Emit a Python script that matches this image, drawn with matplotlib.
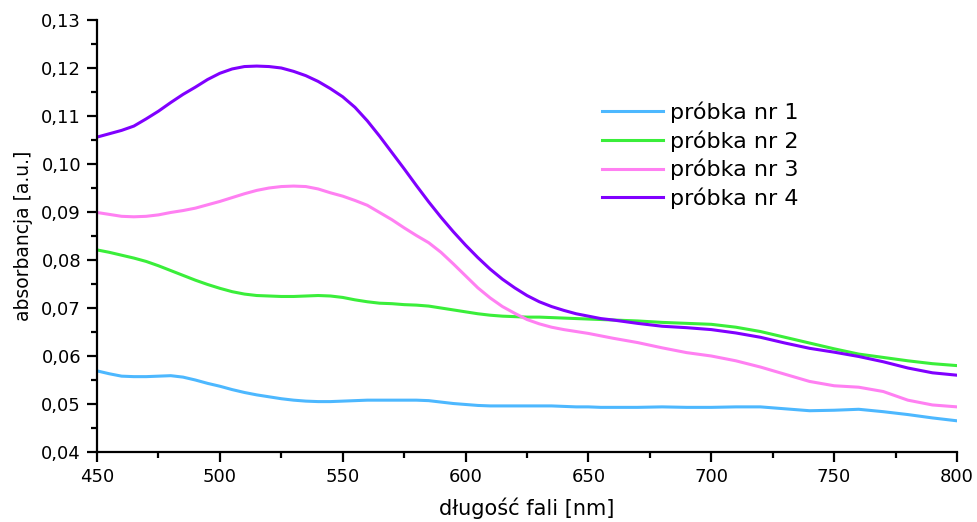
import matplotlib
matplotlib.use("Agg")
import matplotlib.pyplot as plt
from matplotlib.ticker import MultipleLocator, FuncFormatter

wavelength = [450, 455, 460, 465, 470, 475, 480, 485, 490, 495, 500, 505,
              510, 515, 520, 525, 530, 535, 540, 545, 550, 555, 560, 565,
              570, 575, 580, 585, 590, 595, 600, 605, 610, 615, 620, 625,
              630, 635, 640, 645, 650, 655, 660, 670, 680, 690, 700, 710,
              720, 730, 740, 750, 760, 770, 780, 790, 800]

sample1 = [0.0569, 0.0563, 0.0558, 0.0557, 0.0557, 0.0558, 0.0559, 0.0556,
           0.0550, 0.0543, 0.0537, 0.0530, 0.0524, 0.0519, 0.0515, 0.0511,
           0.0508, 0.0506, 0.0505, 0.0505, 0.0506, 0.0507, 0.0508, 0.0508,
           0.0508, 0.0508, 0.0508, 0.0507, 0.0504, 0.0501, 0.0499, 0.0497,
           0.0496, 0.0496, 0.0496, 0.0496, 0.0496, 0.0496, 0.0495, 0.0494,
           0.0494, 0.0493, 0.0493, 0.0493, 0.0494, 0.0493, 0.0493, 0.0494,
           0.0494, 0.0490, 0.0486, 0.0487, 0.0489, 0.0484, 0.0478, 0.0471,
           0.0465]

sample2 = [0.0821, 0.0816, 0.0810, 0.0804, 0.0797, 0.0788, 0.0778, 0.0768,
           0.0758, 0.0749, 0.0741, 0.0734, 0.0729, 0.0726, 0.0725, 0.0724,
           0.0724, 0.0725, 0.0726, 0.0725, 0.0722, 0.0717, 0.0713, 0.0710,
           0.0709, 0.0707, 0.0706, 0.0704, 0.0700, 0.0696, 0.0692, 0.0688,
           0.0685, 0.0683, 0.0682, 0.0681, 0.0681, 0.0680, 0.0679, 0.0678,
           0.0677, 0.0676, 0.0675, 0.0673, 0.0670, 0.0668, 0.0666, 0.0660,
           0.0651, 0.0639, 0.0627, 0.0615, 0.0604, 0.0597, 0.0590, 0.0584,
           0.0580]

sample3 = [0.0899, 0.0895, 0.0891, 0.0890, 0.0891, 0.0894, 0.0899, 0.0903,
           0.0908, 0.0915, 0.0922, 0.0930, 0.0938, 0.0945, 0.0950, 0.0953,
           0.0954, 0.0953, 0.0948, 0.0940, 0.0933, 0.0924, 0.0914, 0.0899,
           0.0884, 0.0867, 0.0851, 0.0836, 0.0816, 0.0792, 0.0767, 0.0742,
           0.0721, 0.0703, 0.0689, 0.0676, 0.0667, 0.0660, 0.0655, 0.0651,
           0.0647, 0.0642, 0.0637, 0.0628, 0.0617, 0.0607, 0.0600, 0.0590,
           0.0577, 0.0562, 0.0547, 0.0538, 0.0535, 0.0526, 0.0508, 0.0498,
           0.0494]

sample4 = [0.1056, 0.1063, 0.1070, 0.1079, 0.1094, 0.1110, 0.1128, 0.1145,
           0.1160, 0.1176, 0.1189, 0.1198, 0.1203, 0.1204, 0.1203, 0.1200,
           0.1193, 0.1184, 0.1172, 0.1157, 0.1140, 0.1118, 0.1090, 0.1058,
           0.1024, 0.0990, 0.0955, 0.0921, 0.0889, 0.0859, 0.0831, 0.0805,
           0.0781, 0.0760, 0.0742, 0.0726, 0.0713, 0.0703, 0.0695, 0.0688,
           0.0683, 0.0678, 0.0675, 0.0668, 0.0662, 0.0659, 0.0655, 0.0648,
           0.0639, 0.0627, 0.0616, 0.0608, 0.0599, 0.0588, 0.0575, 0.0565,
           0.0560]

labels = ["próbka nr 1", "próbka nr 2", "próbka nr 3", "próbka nr 4"]
colors = ["#4db8ff", "#3aee3a", "#ff80f2", "#8000ff"]

plt.rcParams['font.family'] = ['DejaVu Sans']

fig = plt.figure(figsize=(9.77, 5.22), dpi=100)
ax = fig.add_axes([0.0993, 0.1341, 0.8802, 0.8276])

for y, lab, c in zip([sample1, sample2, sample3, sample4], labels, colors):
    ax.plot(wavelength, y, color=c, lw=2.2, label=lab)

ax.set_xlim(450, 800)
ax.set_ylim(0.04, 0.13)
ax.xaxis.set_major_locator(MultipleLocator(50))
ax.xaxis.set_minor_locator(MultipleLocator(25))
ax.yaxis.set_major_locator(MultipleLocator(0.01))
ax.yaxis.set_minor_locator(MultipleLocator(0.005))
ax.yaxis.set_major_formatter(FuncFormatter(lambda v, p: f"{v:.2f}".replace(".", ",")))

for s in ["top", "right"]:
    ax.spines[s].set_visible(False)
for s in ["left", "bottom"]:
    ax.spines[s].set_linewidth(1.6)

ax.tick_params(which="major", direction="out", length=7, width=1.6, labelsize=13, pad=4.5)
ax.tick_params(which="minor", direction="out", length=4.5, width=1.6)

ax.set_xlabel("długość fali [nm]", fontsize=15, labelpad=8)
ax.set_ylabel("absorbancja [a.u.]", fontsize=13.5, labelpad=6)

ax.legend(loc="upper left", bbox_to_anchor=(0.587, 0.811), frameon=False,
          fontsize=16, handlelength=2.75, handletextpad=0.32, labelspacing=0.32,
          borderaxespad=0, borderpad=0)

fig.savefig("out.png", dpi=100)
